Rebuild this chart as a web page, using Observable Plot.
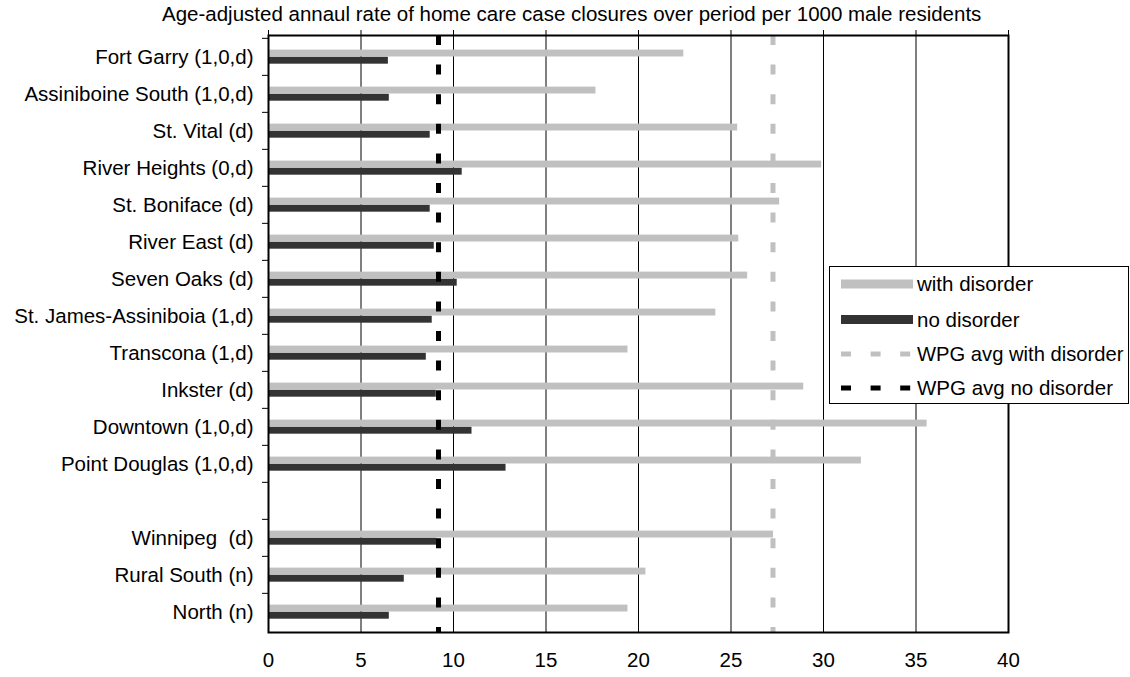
<!DOCTYPE html>
<html>
<head>
<meta charset="utf-8">
<script src="https://cdn.jsdelivr.net/npm/d3@7"></script>
<script src="https://cdn.jsdelivr.net/npm/@observablehq/plot@0.6"></script>
<style>
  html, body { margin: 0; padding: 0; background: #fff; }
  #wrap { position: relative; width: 1130px; height: 677px; overflow: hidden; font-family: "Liberation Sans", Arial, sans-serif; }
  #wrap > svg { position: absolute; left: 0; top: 0; }
</style>
</head>
<body>
<div id="wrap"></div>
<script>
const titleText = "Age-adjusted annaul rate of home care case closures over period per 1000 male residents";
const categories = [
  "Fort Garry (1,0,d)", "Assiniboine South (1,0,d)", "St. Vital (d)", "River Heights (0,d)",
  "St. Boniface (d)", "River East (d)", "Seven Oaks (d)", "St. James-Assiniboia (1,d)",
  "Transcona (1,d)", "Inkster (d)", "Downtown (1,0,d)", "Point Douglas (1,0,d)", " ",
  "Winnipeg\u00a0\u00a0(d)", "Rural South (n)", "North (n)"
];
const withDisorder = [22.45, 17.7, 25.36, 29.9, 27.63, 25.42, 25.9, 24.18, 19.43, 28.93, 35.6, 32.05, null, 27.3, 20.4, 19.43];
const noDisorder   = [6.48, 6.53, 8.74, 10.47, 8.74, 8.96, 10.2, 8.85, 8.53, 9.07, 11.0, 12.84, null, 9.1, 7.34, 6.53];
const wpgAvgWith = [27.27];
const wpgAvgNo = [9.19];
const xTicks = [0, 5, 10, 15, 20, 25, 30, 35, 40];
const gridTicks = [5, 10, 15, 20, 25, 30, 35];
const legendLabels = ["with disorder", "no disorder", "WPG avg with disorder", "WPG avg no disorder"];

const W = 1130, H = 677, mT = 35, mB = 45, mL = 268, mR = 122;
const FS = 20.5;
const bw = (H - mT - mB) / categories.length;

const rows = categories.map((name, i) => ({name, with: withDisorder[i], no: noDisorder[i]}))
  .filter(d => d.with != null);

const chart = Plot.plot({
  width: W, height: H,
  marginLeft: mL, marginRight: mR, marginTop: mT, marginBottom: mB,
  x: {domain: [0, 40], label: null},
  y: {domain: categories, padding: 0, label: null},
  style: {fontFamily: "'Liberation Sans', Arial, sans-serif", fontSize: FS + "px", color: "black", background: "white", overflow: "visible"},
  marks: [
    Plot.ruleX(gridTicks, {stroke: "black", strokeWidth: 1}),
    Plot.barX(rows, {x: "with", y: "name", fill: "#c0c0c0", insetTop: 11.6, insetBottom: bw - 11.6 - 7.2}),
    Plot.barX(rows, {x: "no", y: "name", fill: "#333333", insetTop: 18.8, insetBottom: bw - 18.8 - 7.2}),
    Plot.ruleX(wpgAvgWith, {stroke: "#c0c0c0", strokeWidth: 5, strokeDasharray: "10,19.6"}),
    Plot.ruleX(wpgAvgNo, {stroke: "black", strokeWidth: 5, strokeDasharray: "10,19.6"}),
    Plot.frame({stroke: "black", strokeWidth: 2}),
    Plot.axisX({anchor: "bottom", ticks: xTicks, tickSize: 0, tickPadding: 20, label: null}),
    Plot.axisX({anchor: "top", ticks: xTicks, tickSize: 6, tickFormat: () => "", label: null}),
    Plot.axisY({anchor: "left", tickSize: 0, tickPadding: 15, label: null}),
    Plot.axisY({anchor: "left", tickSize: 6, tickFormat: () => "", dy: -bw / 2, label: null})
  ]
});
document.getElementById("wrap").appendChild(chart);

// overlay: title and legend
const ov = d3.select("#wrap").append("svg")
  .attr("width", W).attr("height", H)
  .style("font-family", "'Liberation Sans', Arial, sans-serif")
  .style("pointer-events", "none");

ov.append("text").attr("x", 162).attr("y", 21).attr("font-size", FS).attr("fill", "black").text(titleText);

const lg = ov.append("g");
lg.append("rect").attr("x", 829.5).attr("y", 266.5).attr("width", 299).attr("height", 137)
  .attr("fill", "white").attr("stroke", "black").attr("stroke-width", 1);
const rowY = [284, 319.5, 354, 388];
const sw0 = 841, sw1 = 913;
lg.append("rect").attr("x", sw0).attr("y", rowY[0] - 4.5).attr("width", sw1 - sw0).attr("height", 9).attr("fill", "#c0c0c0");
lg.append("rect").attr("x", sw0).attr("y", rowY[1] - 4.5).attr("width", sw1 - sw0).attr("height", 9).attr("fill", "#333333");
lg.append("line").attr("x1", sw0).attr("x2", sw1).attr("y1", rowY[2]).attr("y2", rowY[2])
  .attr("stroke", "#c0c0c0").attr("stroke-width", 5).attr("stroke-dasharray", "10,19.6");
lg.append("line").attr("x1", sw0).attr("x2", sw1).attr("y1", rowY[3]).attr("y2", rowY[3])
  .attr("stroke", "black").attr("stroke-width", 5).attr("stroke-dasharray", "10,19.6");
legendLabels.forEach((t, i) => {
  lg.append("text").attr("x", 917).attr("y", rowY[i]).attr("dy", "0.35em")
    .attr("font-size", i === 2 ? 20.2 : FS).attr("fill", "black").text(t);
});
</script>
</body>
</html>
